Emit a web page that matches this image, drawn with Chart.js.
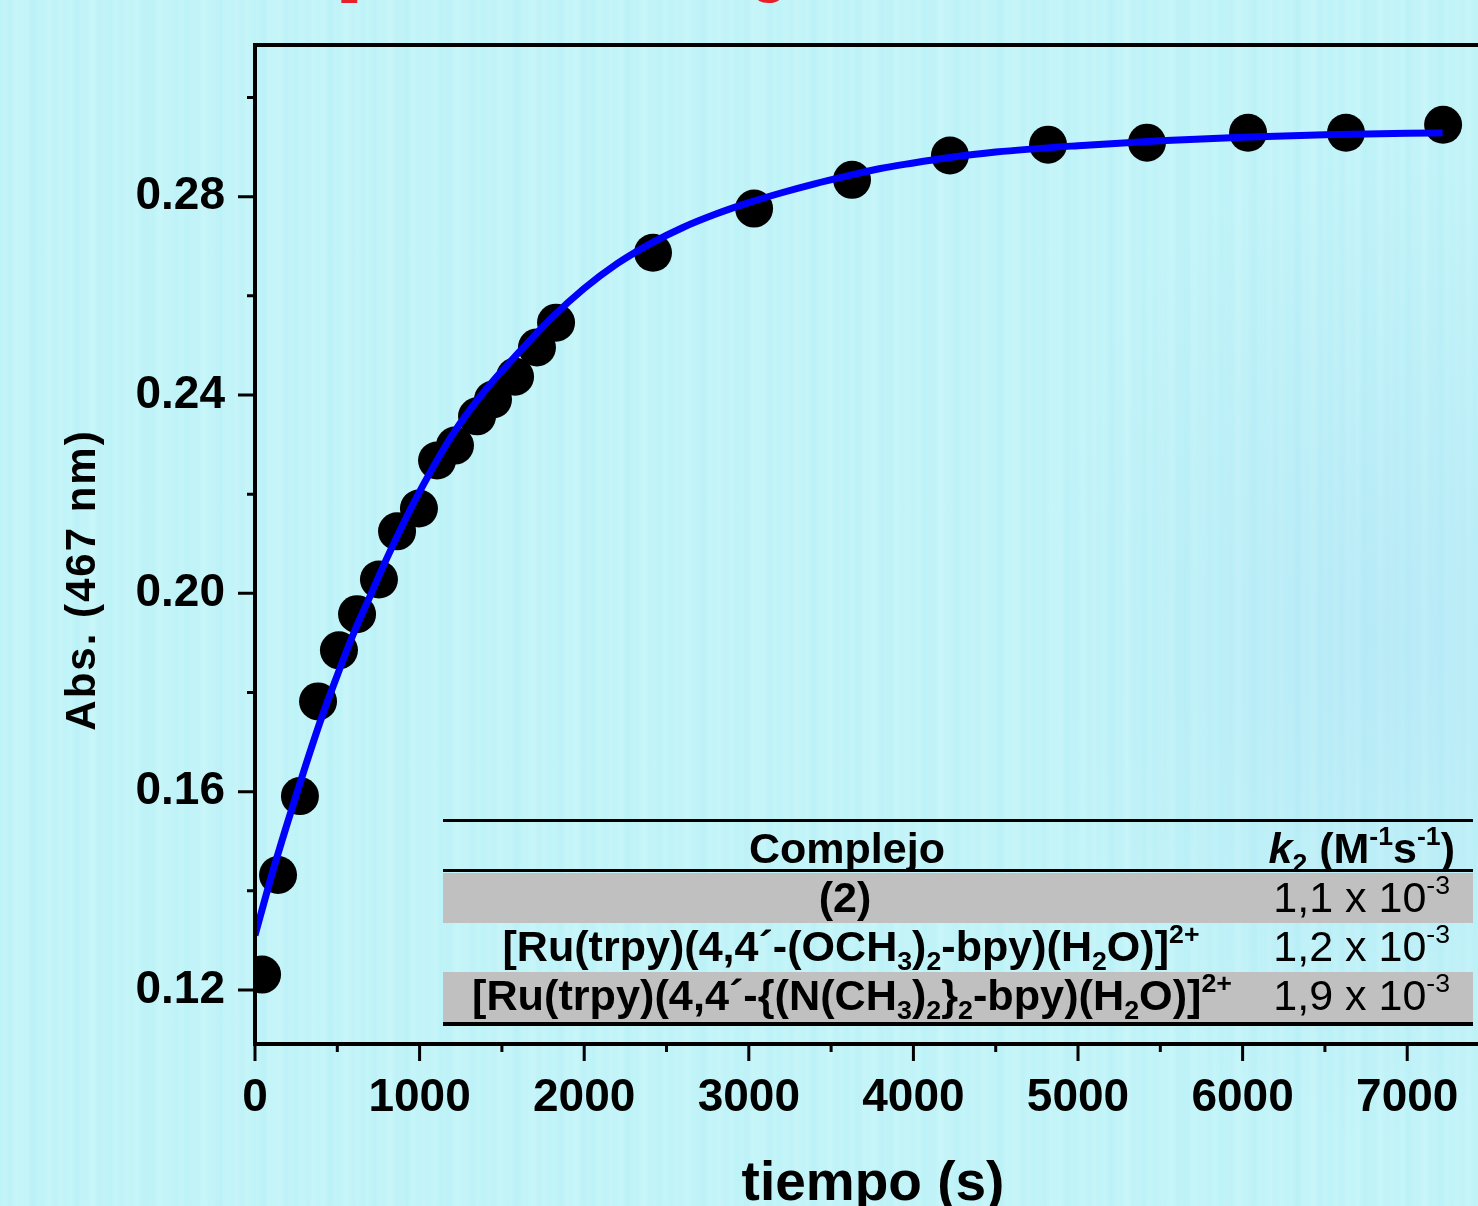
<!DOCTYPE html>
<html>
<head>
<meta charset="utf-8">
<script src="https://cdn.jsdelivr.net/npm/chart.js@4.4.1/dist/chart.umd.min.js"></script>
<style>
html, body { margin: 0; padding: 0; width: 1478px; height: 1206px; overflow: hidden; }
body {
  background:
    radial-gradient(ellipse 420px 620px at 1380px 640px, rgba(160,210,245,0.28), rgba(160,210,245,0) 80%),
    repeating-linear-gradient(90deg, rgba(255,255,255,0) 0px, rgba(255,255,255,0.10) 5px, rgba(255,255,255,0) 11px),
    repeating-linear-gradient(90deg, rgba(150,215,240,0) 0px, rgba(150,215,240,0.10) 9px, rgba(150,215,240,0) 23px),
    repeating-linear-gradient(90deg, rgba(255,255,255,0) 0px, rgba(255,255,255,0.12) 17px, rgba(255,255,255,0) 37px),
    #bdf4f8;
}
#wrap { position: absolute; left: 0; top: 0; width: 1478px; height: 1206px; }
</style>
</head>
<body>
<div id="wrap"><canvas id="c" width="1478" height="1206"></canvas></div>
<script>
// ---------------- data ----------------
const sampleTimes = [43, 140, 273, 383, 510, 620, 753, 863, 996, 1106, 1215, 1349, 1446, 1580, 1713, 1829, 2418, 3032, 3627, 4222, 4818, 5419, 6033, 6628, 7218];
const sampleAbs   = [0.1231, 0.1432, 0.1591, 0.1782, 0.1885, 0.1958, 0.2028, 0.2125, 0.2171, 0.2268, 0.2298, 0.2357, 0.2391, 0.2437, 0.2496, 0.2546, 0.2687, 0.2776, 0.2834, 0.2883, 0.2905, 0.2909, 0.2929, 0.2929, 0.2945];

const fitTimes = [0, 100, 200, 300, 400, 500, 600, 700, 800, 900, 1000, 1200, 1400, 1600, 1800, 2000, 2200, 2400, 2600, 2800, 3000, 3200, 3400, 3600, 3800, 4000, 4200, 4500, 5000, 5500, 6000, 6500, 7000, 7215];
const fitAbs   = [0.1310, 0.1430, 0.1540, 0.1645, 0.1745, 0.1835, 0.1920, 0.1995, 0.2070, 0.2140, 0.2205, 0.2320, 0.2410, 0.2485, 0.2555, 0.2615, 0.2665, 0.2705, 0.2738, 0.2765, 0.2788, 0.2808, 0.2826, 0.2842, 0.2857, 0.2868, 0.2878, 0.2890, 0.2903, 0.2913, 0.2920, 0.2925, 0.2928, 0.2929];

const xTickValues = [0, 500, 1000, 1500, 2000, 2500, 3000, 3500, 4000, 4500, 5000, 5500, 6000, 6500, 7000];
const xTickLabels = ['0', '1000', '2000', '3000', '4000', '5000', '6000', '7000'];
const yTickValues = [0.12, 0.14, 0.16, 0.18, 0.20, 0.22, 0.24, 0.26, 0.28, 0.30];
const yTickLabels = ['0.12', '0.16', '0.20', '0.24', '0.28'];
const xTitle = 'tiempo (s)';
const yTitle = 'Abs. (467 nm)';

// inset table (text segments: b = bold, r = regular, bi = bold italic, *sub / *sup)
const tableHeader = [
  [['Complejo', 'b']],
  [['k', 'bi'], ['2', 'bsub'], [' (M', 'b'], ['-1', 'bsup'], ['s', 'b'], ['-1', 'bsup'], [')', 'b']]
];
const complexNames = [
  [['(2)', 'b']],
  [['[Ru(trpy)(4,4´-(OCH', 'b'], ['3', 'bsub'], [')', 'b'], ['2', 'bsub'], ['-bpy)(H', 'b'], ['2', 'bsub'], ['O)]', 'b'], ['2+', 'bsup']],
  [['[Ru(trpy)(4,4´-{(N(CH', 'b'], ['3', 'bsub'], [')', 'b'], ['2', 'bsub'], ['}', 'b'], ['2', 'bsub'], ['-bpy)(H', 'b'], ['2', 'bsub'], ['O)]', 'b'], ['2+', 'bsup']]
];
const k2Mantissa = ['1,1', '1,2', '1,9'];
const k2Exponent = ['-3', '-3', '-3'];

// ---------------- drawing helpers ----------------
const FAM = '"Liberation Sans", Arial, Helvetica, sans-serif';
Chart.defaults.font.family = FAM;

function segFont(st, size) {
  const bold = st[0] === 'b';
  const italic = st === 'bi';
  const small = /sub|sup/.test(st);
  return (italic ? 'italic ' : '') + (bold ? 'bold ' : '') + (small ? size * 0.62 : size) + 'px ' + FAM;
}
function segDy(st, size) {
  if (st.endsWith('sub')) return size * 0.2;
  if (st.endsWith('sup')) return -size * 0.42;
  return 0;
}
function drawRich(ctx, segs, x, y, size, align, targetW) {
  ctx.save();
  ctx.textBaseline = 'alphabetic';
  ctx.textAlign = 'left';
  let W = 0;
  const widths = segs.map(([t, st]) => { ctx.font = segFont(st, size); const w = ctx.measureText(t).width; W += w; return w; });
  const sx = targetW ? targetW / W : 1;
  const total = W * sx;
  const start = align === 'center' ? x - total / 2 : align === 'right' ? x - total : x;
  ctx.translate(start, y);
  ctx.scale(sx, 1);
  let cx = 0;
  segs.forEach(([t, st], i) => {
    ctx.font = segFont(st, size);
    ctx.fillText(t, cx, segDy(st, size));
    cx += widths[i];
  });
  ctx.restore();
}

const decorPlugin = {
  id: 'decor',
  afterDraw(chart) {
    const ctx = chart.ctx;
    const a = chart.chartArea;
    const xs = chart.scales.x, ys = chart.scales.y;
    ctx.save();
    ctx.fillStyle = '#000';
    ctx.strokeStyle = '#000';
    ctx.lineCap = 'butt';

    // frame: top, left, bottom
    ctx.lineWidth = 4;
    ctx.beginPath();
    ctx.moveTo(a.left - 2, a.top); ctx.lineTo(a.right, a.top);
    ctx.moveTo(a.left, a.top - 2); ctx.lineTo(a.left, a.bottom + 2);
    ctx.moveTo(a.left - 2, a.bottom); ctx.lineTo(a.right, a.bottom);
    ctx.stroke();

    // ticks
    ctx.lineWidth = 3;
    ctx.beginPath();
    ys.ticks.forEach(t => {
      const p = ys.getPixelForValue(t.value);
      const major = yTickLabels.includes(t.value.toFixed(2));
      ctx.moveTo(a.left - (major ? 17 : 8), p); ctx.lineTo(a.left, p);
    });
    xs.ticks.forEach(t => {
      const p = xs.getPixelForValue(t.value);
      const major = xTickLabels.includes(String(Math.round(t.value)));
      ctx.moveTo(p, a.bottom); ctx.lineTo(p, a.bottom + (major ? 17 : 8));
    });
    ctx.stroke();

    // axis titles
    ctx.fillStyle = '#000';
    ctx.font = 'bold 55px ' + FAM;
    ctx.textAlign = 'center';
    ctx.textBaseline = 'alphabetic';
    ctx.fillText(xTitle, 873, 1200);

    ctx.save();
    ctx.translate(95, 580);
    ctx.rotate(-Math.PI / 2);
    ctx.font = 'bold 42px ' + FAM;
    try { ctx.letterSpacing = '2px'; } catch (e) {}
    ctx.fillText(yTitle, 0, 0);
    ctx.restore();

    // inset table
    const tL = 443, tR = 1473;
    ctx.fillStyle = '#c0c0c0';
    ctx.fillRect(tL, 873, tR - tL, 50);
    ctx.fillRect(tL, 972, tR - tL, 50);
    ctx.fillStyle = '#000';
    ctx.fillRect(tL, 819, tR - tL, 3);
    ctx.fillRect(tL, 869, tR - tL, 3);
    ctx.fillRect(tL, 1022, tR - tL, 4);

    drawRich(ctx, tableHeader[0], 847, 863, 43, 'center');
    drawRich(ctx, tableHeader[1], 1455, 863, 43, 'right');

    const baselines = [912, 961, 1010];
    const centers = [845, 851, 852];
    const widthsT = [null, 697, 760];
    complexNames.forEach((segs, i) => {
      drawRich(ctx, segs, centers[i], baselines[i], 43, 'center', widthsT[i]);
      drawRich(ctx, [[k2Mantissa[i] + ' x 10', 'r'], [k2Exponent[i], 'rsup']], 1450, baselines[i], 43, 'right');
    });

    // cut-off red heading fragments at the very top
    ctx.fillStyle = '#e8202a';
    ctx.font = 'bold 60px ' + FAM;
    ctx.textAlign = 'left';
    ctx.fillText('_', 163, -9);
    ctx.fillText('[', 338, -9);
    ctx.fillText('g', 751, -9);

    ctx.restore();
  }
};

new Chart(document.getElementById('c'), {
  type: 'scatter',
  data: {
    datasets: [
      {
        label: 'ajuste',
        type: 'line',
        data: fitTimes.map((t, i) => ({ x: t, y: fitAbs[i] })),
        borderColor: '#0000ff',
        borderWidth: 7,
        pointRadius: 0,
        fill: false,
        cubicInterpolationMode: 'monotone',
        showLine: true
      },
      {
        label: 'Abs',
        data: sampleTimes.map((t, i) => ({ x: t, y: sampleAbs[i] })),
        backgroundColor: '#000',
        borderWidth: 0,
        pointRadius: 19,
        pointHoverRadius: 19,
        showLine: false
      }
    ]
  },
  options: {
    responsive: false,
    animation: false,
    events: [],
    layout: { autoPadding: false, padding: { top: 45, left: 0, right: 0, bottom: 0 } },
    plugins: { legend: { display: false }, tooltip: { enabled: false }, title: { display: false } },
    scales: {
      x: {
        type: 'linear',
        min: 0,
        max: 7430,
        grid: { display: false, drawTicks: false },
        border: { display: false },
        afterBuildTicks: s => { s.ticks = xTickValues.map(v => ({ value: v })); },
        ticks: {
          autoSkip: false,
          maxRotation: 0,
          padding: 27,
          color: '#000',
          font: { size: 46, weight: 'bold' },
          callback: v => { const s = String(Math.round(v)); return xTickLabels.includes(s) ? s : ''; }
        },
        afterFit: s => { s.height = 162; s.paddingLeft = 0; s.paddingRight = 0; }
      },
      y: {
        type: 'linear',
        min: 0.1091,
        max: 0.3106,
        grid: { display: false, drawTicks: false },
        border: { display: false },
        afterBuildTicks: s => { s.ticks = yTickValues.map(v => ({ value: v })); },
        ticks: {
          autoSkip: false,
          padding: 30,
          color: '#000',
          font: { size: 46, weight: 'bold' },
          callback: v => { const s = Number(v).toFixed(2); return yTickLabels.includes(s) ? s : ''; }
        },
        afterFit: s => { s.width = 255; s.paddingTop = 0; s.paddingBottom = 0; }
      }
    }
  },
  plugins: [decorPlugin]
});
</script>
</body>
</html>
